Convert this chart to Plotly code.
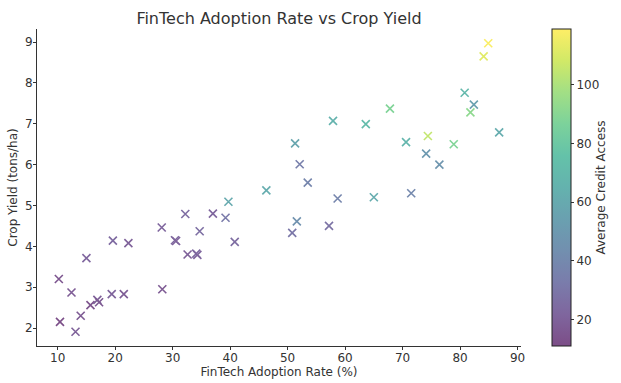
import plotly.graph_objects as go

adoption = [10.2, 12.4, 10.4, 13.1, 14.0, 15.0, 15.7, 16.9, 17.2, 19.4,
            19.6, 21.5, 22.3, 28.1, 28.2, 30.4, 30.6, 32.2, 32.6, 34.1,
            34.3, 34.7, 37.0, 39.2, 39.7, 40.8, 46.3, 50.8, 51.3, 51.6,
            52.1, 53.5, 57.2, 57.9, 58.7, 63.6, 65.0, 67.8, 70.6, 71.5,
            74.1, 74.4, 76.4, 78.9, 80.8, 81.8, 82.4, 84.1, 84.9, 86.8]
crop_yield = [3.20, 2.87, 2.15, 1.91, 2.30, 3.71, 2.56, 2.69, 2.63, 2.83,
              4.14, 2.83, 4.08, 4.46, 2.95, 4.15, 4.13, 4.79, 3.80, 3.82,
              3.79, 4.37, 4.80, 4.70, 5.09, 4.11, 5.37, 4.33, 6.52, 4.61,
              6.01, 5.56, 4.50, 7.07, 5.17, 6.99, 5.20, 7.37, 6.55, 5.30,
              6.27, 6.70, 6.00, 6.50, 7.76, 7.28, 7.47, 8.65, 8.97, 6.79]
credit = [15, 18, 12, 20, 17, 22, 14, 19, 16, 21,
          24, 18, 20, 22, 17, 23, 21, 25, 20, 24,
          22, 26, 22, 32, 60, 25, 62, 30, 58, 45,
          35, 38, 28, 66, 38, 72, 62, 88, 68, 40,
          50, 105, 48, 88, 70, 92, 55, 112, 118, 62]
cbar_ticks = [20, 40, 60, 80, 100]

# viridis blended with white (alpha 0.7)
viridis = ["#440154", "#482475", "#414487", "#355f8d", "#2a788e", "#21918c",
           "#22a884", "#44bf70", "#7ad151", "#bddf26", "#fde725"]
alpha = 0.7
def blend(h):
    r, g, b = int(h[1:3], 16), int(h[3:5], 16), int(h[5:7], 16)
    f = lambda c: int(round(alpha * c + (1 - alpha) * 255))
    return f"rgb({f(r)},{f(g)},{f(b)})"
cscale = [[i / 10, blend(c)] for i, c in enumerate(viridis)]

txt = "#333333"
fnt = dict(size=12, color=txt, family="DejaVu Sans")
fig = go.Figure(go.Scatter(
    x=adoption, y=crop_yield, mode="markers",
    marker=dict(
        symbol="x-thin", size=8,
        color=credit, colorscale=cscale, cmin=11, cmax=119,
        line=dict(width=1.6, color=credit, colorscale=cscale, cmin=11, cmax=119),
        showscale=True,
        colorbar=dict(
            thickness=19, len=317, lenmode="pixels",
            x=552 / 621, xref="container", xanchor="left", xpad=0,
            y=0.5, yref="paper", yanchor="middle", ypad=0,
            outlinewidth=1, outlinecolor="#222",
            tickvals=cbar_ticks, ticks="outside", ticklen=3, tickcolor=txt,
            tickfont=fnt,
            title=dict(text="Average Credit Access", side="right", font=fnt),
        ),
    ),
    showlegend=False,
))

axis_common = dict(
    showgrid=False, zeroline=False, showline=True, linecolor="#333", linewidth=1,
    ticks="outside", ticklen=3, tickcolor="#333", mirror=False, automargin=False,
    tickfont=fnt, ticklabelstandoff=-2,
)
fig.update_xaxes(range=[6.4, 90.6], dtick=10,
                 title=dict(text="FinTech Adoption Rate (%)", standoff=0, font=fnt),
                 **axis_common)
fig.update_yaxes(range=[1.56, 9.32], dtick=1,
                 title=dict(text="Crop Yield (tons/ha)", standoff=4, font=fnt),
                 **axis_common)
fig.update_layout(
    width=621, height=383,
    margin=dict(l=37, r=100, t=29, b=37, autoexpand=False),
    paper_bgcolor="white", plot_bgcolor="white",
    title=dict(text="FinTech Adoption Rate vs Crop Yield", x=279 / 621, xanchor="center",
               y=1 - 18 / 383, yanchor="middle",
               font=dict(size=16, color=txt, family="DejaVu Sans")),
    font=dict(family="DejaVu Sans", color=txt),
)
fig.write_html("out.html", config={"displayModeBar": False},
               post_script="document.body.style.margin='0';document.body.style.overflow='hidden';")
